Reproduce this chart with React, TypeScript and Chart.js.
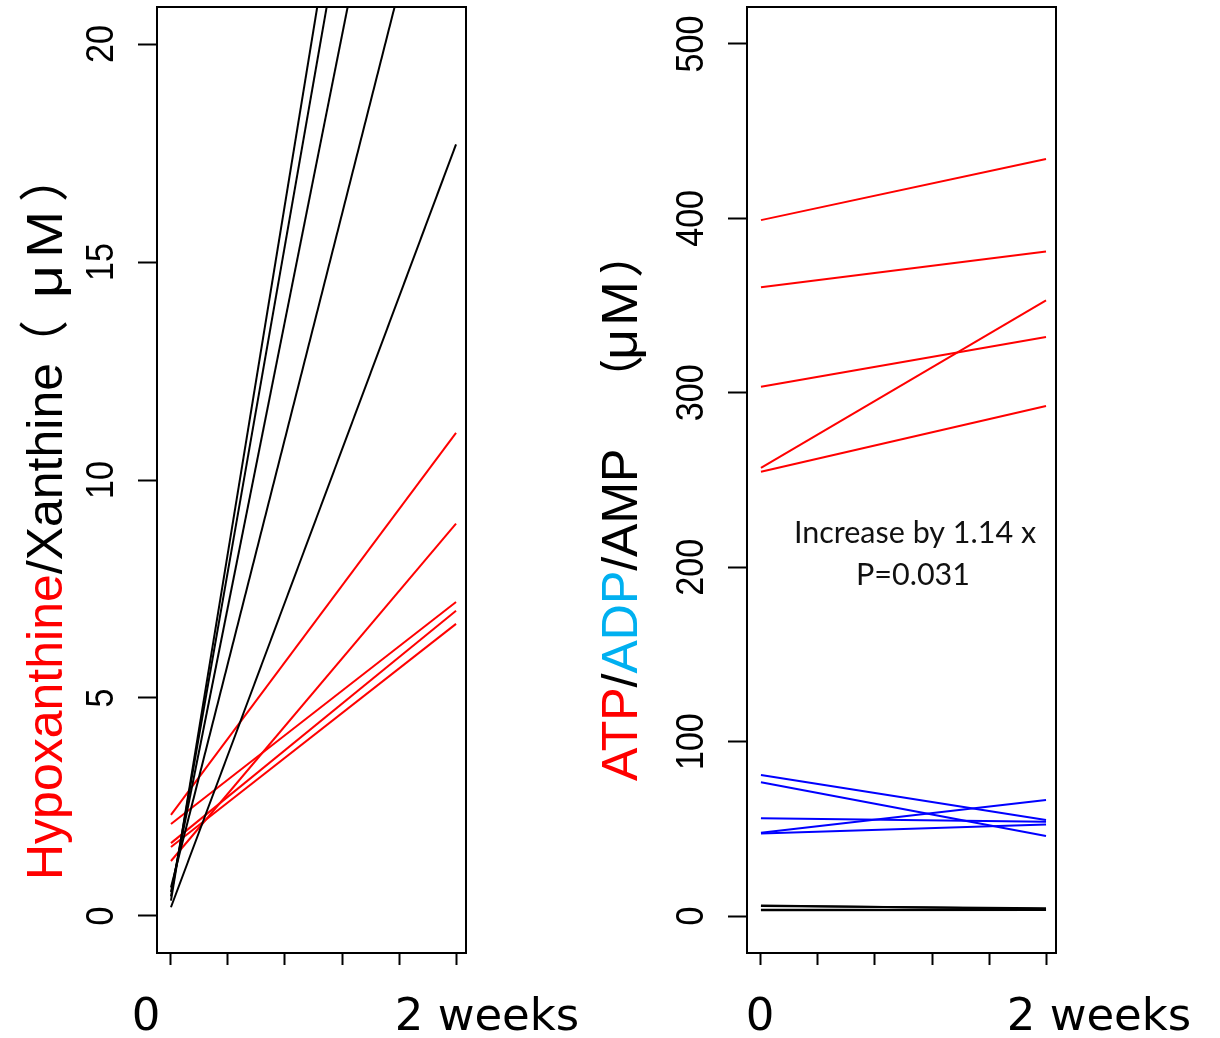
import React, { useEffect, useRef } from "react";
import { Chart, registerables } from "chart.js";

Chart.register(...registerables);

// ---------------- data ----------------
const TIME_POINTS = [1, 2]; // "0" and "2 weeks"
const X_TICKS = [1, 1.2, 1.4, 1.6, 1.8, 2];
const X_LABELS = ["0", "2 weeks"];

const LEFT_Y_TICKS = [0, 5, 10, 15, 20];
const RIGHT_Y_TICKS = [0, 100, 200, 300, 400, 500];

// Left panel: Xanthine (black) and Hypoxanthine (red), µM
const XANTHINE_START = [0.35, 0.45, 0.55, 0.65, 0.2];
const XANTHINE_END = [40.3, 37.8, 33.3, 26.4, 17.7];
const HYPOXANTHINE_START = [2.32, 1.26, 2.11, 1.67, 1.58];
const HYPOXANTHINE_END = [11.08, 9.0, 7.2, 7.0, 6.7];

// Right panel: ATP (red), ADP (blue), AMP (black), µM
const ATP_START = [399, 360.5, 303.5, 257, 254.7];
const ATP_END = [434, 381, 332, 353, 292.4];
const ADP_START = [80.8, 76.7, 56, 47.8, 47.3];
const ADP_END = [55, 45.9, 54, 66.5, 52.5];
const AMP_START = [6.0, 5.7, 3.4, 3.3, 3.6];
const AMP_END = [4.0, 4.5, 3.5, 3.4, 3.6];

const NOTE_LINES = ["Increase by 1.14 x", "P=0.031"];

// ---------------- chart setup ----------------
type Seg = { text: string; color: string; from?: number; to?: number };
type Series = { start: number[]; end: number[]; color: string };
interface PanelSpec {
  pageLeft: number;
  width: number;
  yMin: number;
  yMax: number;
  yTicks: number[];
  yAxisWidth: number;
  padRight: number;
  tickLabelX: number;
  title: Seg[];
  titleX: number;
  titleStartY: number;
  series: Series[];
  xLabelCenters: number[];
  notes?: { text: string; x: number; y: number }[];
}

const HEIGHT = 1038;
const TITLE_FONT = '50px "Liberation Sans", "Noto Sans CJK JP", sans-serif';

const LEFT_SPEC: PanelSpec = {
  pageLeft: 0,
  width: 600,
  yMin: -0.85,
  yMax: 20.85,
  yTicks: LEFT_Y_TICKS,
  yAxisWidth: 157,
  padRight: 134,
  tickLabelX: 113,
  title: [
    { text: "Hypoxanthine", color: "#FF0000" },
    { text: "/Xanthine", color: "#000000" },
    { text: "（", color: "#000000", from: 370, to: 320 },
    { text: "μ", color: "#000000", from: 298, to: 265 },
    { text: "M", color: "#000000", from: 258, to: 211 },
    { text: "）", color: "#000000", from: 202, to: 152 },
  ],
  titleX: 62,
  titleStartY: 880,
  series: [
    { start: XANTHINE_START, end: XANTHINE_END, color: "#000000" },
    { start: HYPOXANTHINE_START, end: HYPOXANTHINE_END, color: "#FF0000" },
  ],
  xLabelCenters: [146, 487],
};

const RIGHT_SPEC: PanelSpec = {
  pageLeft: 600,
  width: 620,
  yMin: -21.2,
  yMax: 521.2,
  yTicks: RIGHT_Y_TICKS,
  yAxisWidth: 147,
  padRight: 164,
  tickLabelX: 103,
  title: [
    { text: "ATP", color: "#FF0000" },
    { text: "/", color: "#000000" },
    { text: "ADP", color: "#00B0F0" },
    { text: "/AMP", color: "#000000" },
    { text: "（", color: "#000000", from: 405, to: 355 },
    { text: "μ", color: "#000000", from: 360, to: 329 },
    { text: "M", color: "#000000", from: 326, to: 281 },
    { text: "）", color: "#000000", from: 278, to: 228 },
  ],
  titleX: 37,
  titleStartY: 781,
  series: [
    { start: AMP_START, end: AMP_END, color: "#000000" },
    { start: ADP_START, end: ADP_END, color: "#0000FF" },
    { start: ATP_START, end: ATP_END, color: "#FF0000" },
  ],
  xLabelCenters: [160, 499],
  notes: [
    { text: NOTE_LINES[0], x: 315, y: 543 },
    { text: NOTE_LINES[1], x: 313, y: 585 },
  ],
};

function buildDatasets(spec: PanelSpec) {
  const ds: any[] = [];
  spec.series.forEach((s) => {
    s.start.forEach((v, i) => {
      ds.push({
        data: [
          { x: TIME_POINTS[0], y: v },
          { x: TIME_POINTS[1], y: s.end[i] },
        ],
        borderColor: s.color,
        backgroundColor: s.color,
        borderWidth: 2,
        pointRadius: 0,
        tension: 0,
        fill: false,
      });
    });
  });
  return ds;
}

function makeTextPlugin(spec: PanelSpec) {
  return {
    id: "panelText",
    afterDraw(chart: any) {
      const ctx: CanvasRenderingContext2D = chart.ctx;
      const area = chart.chartArea;
      // frame box
      ctx.save();
      ctx.strokeStyle = "#000";
      ctx.lineWidth = 2;
      ctx.strokeRect(area.left, area.top, area.right - area.left, area.bottom - area.top);
      ctx.restore();

      // y tick labels (rotated)
      const yScale = chart.scales.y;
      ctx.save();
      ctx.fillStyle = "#000";
      ctx.font = '39px "Liberation Sans", Arial, sans-serif';
      spec.yTicks.forEach((v) => {
        const py = yScale.getPixelForValue(v);
        ctx.save();
        ctx.translate(spec.tickLabelX, py);
        ctx.rotate(-Math.PI / 2);
        ctx.scale(0.875, 1);
        ctx.textAlign = "center";
        ctx.textBaseline = "alphabetic";
        ctx.fillText(String(v), 0, 0);
        ctx.restore();
      });
      ctx.restore();

      // y title (rotated, multi-colour), reading bottom to top
      ctx.save();
      ctx.font = TITLE_FONT;
      ctx.textAlign = "left";
      ctx.textBaseline = "alphabetic";
      let cur = spec.titleStartY;
      spec.title.forEach((s) => {
        if (s.from !== undefined) cur = s.from;
        const w = ctx.measureText(s.text).width;
        const len = s.to !== undefined ? cur - s.to : w;
        ctx.save();
        ctx.translate(spec.titleX, cur);
        ctx.rotate(-Math.PI / 2);
        ctx.scale(len / w, 1);
        ctx.fillStyle = s.color;
        ctx.fillText(s.text, 0, 0);
        ctx.restore();
        cur -= len;
      });
      ctx.restore();

      // x labels
      ctx.save();
      ctx.fillStyle = "#000";
      ctx.font = '45px "DejaVu Sans", Verdana, sans-serif';
      ctx.textAlign = "center";
      ctx.textBaseline = "alphabetic";
      X_LABELS.forEach((t, i) => {
        ctx.fillText(t, spec.xLabelCenters[i], 1030);
      });
      ctx.restore();

      // notes
      if (spec.notes) {
        ctx.save();
        ctx.fillStyle = "#111";
        ctx.font = '30.5px Lato, "Open Sans", sans-serif';
        ctx.textAlign = "center";
        ctx.textBaseline = "alphabetic";
        spec.notes.forEach((n) => ctx.fillText(n.text, n.x, n.y));
        ctx.restore();
      }
    },
  };
}

function Panel({ spec }: { spec: PanelSpec }) {
  const ref = useRef<HTMLCanvasElement | null>(null);
  useEffect(() => {
    if (!ref.current) return;
    const chart = new Chart(ref.current, {
      type: "line",
      data: { datasets: buildDatasets(spec) },
      options: {
        animation: false,
        responsive: false,
        maintainAspectRatio: false,
        events: [],
        layout: { padding: { top: 7, right: spec.padRight, left: 0, bottom: 0 } },
        plugins: {
          legend: { display: false },
          tooltip: { enabled: false },
          title: { display: false },
        },
        scales: {
          x: {
            type: "linear",
            min: 0.951,
            max: 2.035,
            afterBuildTicks: (s: any) => {
              s.ticks = X_TICKS.map((v) => ({ value: v }));
            },
            afterFit: (s: any) => {
              s.height = 85;
            },
            ticks: { display: false },
            grid: {
              drawOnChartArea: false,
              drawTicks: true,
              tickLength: 12,
              tickColor: "#000",
              tickWidth: 2,
            },
            border: { display: true, color: "#000", width: 2 },
          },
          y: {
            type: "linear",
            min: spec.yMin,
            max: spec.yMax,
            afterBuildTicks: (s: any) => {
              s.ticks = spec.yTicks.map((v) => ({ value: v }));
            },
            afterFit: (s: any) => {
              s.width = spec.yAxisWidth;
            },
            ticks: { display: false },
            grid: {
              drawOnChartArea: false,
              drawTicks: true,
              tickLength: 19,
              tickColor: "#000",
              tickWidth: 2,
            },
            border: { display: true, color: "#000", width: 2 },
          },
        },
      } as any,
      plugins: [makeTextPlugin(spec)],
    } as any);
    return () => chart.destroy();
  }, [spec]);
  return (
    <canvas
      ref={ref}
      width={spec.width}
      height={HEIGHT}
      style={{
        position: "absolute",
        left: spec.pageLeft,
        top: 0,
        width: spec.width,
        height: HEIGHT,
      }}
    />
  );
}

export default function App() {
  return (
    <div
      style={{
        position: "absolute",
        left: 0,
        top: 0,
        width: 1220,
        height: HEIGHT,
        background: "#ffffff",
        overflow: "hidden",
      }}
    >
      <Panel spec={LEFT_SPEC} />
      <Panel spec={RIGHT_SPEC} />
    </div>
  );
}
